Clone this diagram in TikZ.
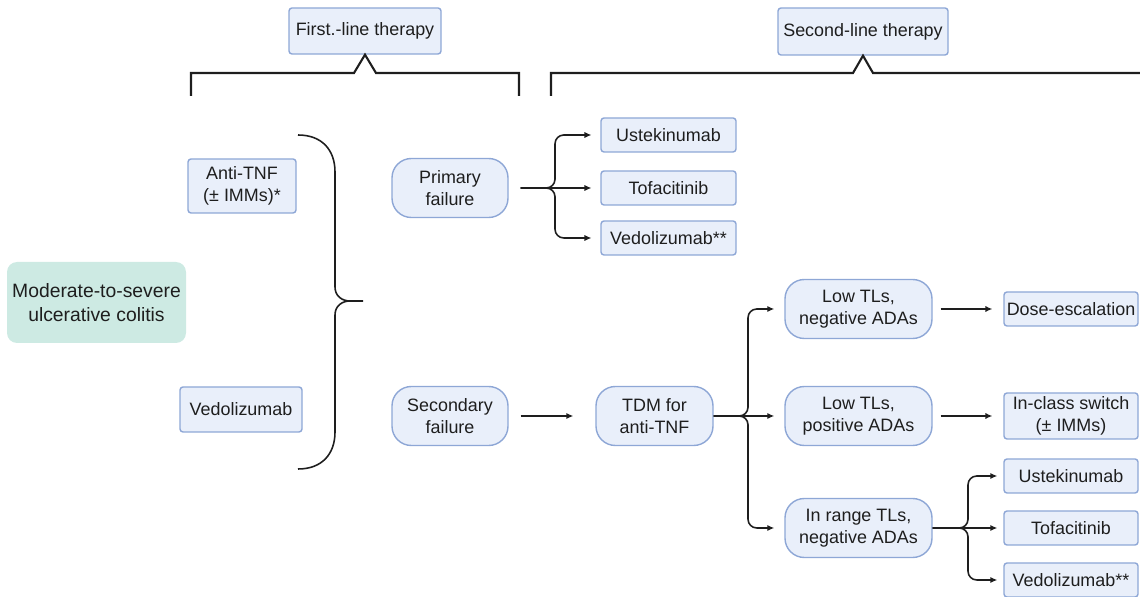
\documentclass[tikz,border=0pt]{standalone}
\usepackage{fontspec}
\setmainfont{Liberation Sans}
\usetikzlibrary{arrows.meta}

\definecolor{boxfill}{HTML}{E9EFFA}
\definecolor{boxline}{HTML}{8EA7D6}
\definecolor{teal}{HTML}{CDEAE3}
\definecolor{ink}{HTML}{1E1E1E}

\tikzset{
    size/.style 2 args={minimum width=#1*0.02cm, minimum height=#2*0.02cm},
    box/.style={draw=boxline, fill=boxfill, line width=0.8pt, rounded corners=1.7pt,
        align=center, inner sep=0pt, text=ink, font=\fontsize{10.2}{12.5}\selectfont},
    pill/.style={box, rounded corners=11pt},
    arr/.style={-{Latex[length=4pt,width=3.6pt]}, line width=0.9pt, rounded corners=5pt, ink},
    bracket/.style={line width=1.2pt, ink, miter limit=20},
}

\begin{document}
\begin{tikzpicture}[x=0.02cm, y=-0.02cm]

    \useasboundingbox (0,0) rectangle (1140,597);

    % Titulos
    \node[box, size={152}{46}] (first) at (365,31) {First.-line therapy};
    \node[box, size={170}{47}] (second) at (863,31.5) {Second-line therapy};
    % Llaves de arriba
    \draw[bracket] (191,96) -- (191,73) -- (354,73) -- (first.south) -- (376,73) -- (519,73) -- (519,96);
    \draw[bracket] (551,96) -- (551,73) -- (853,73) -- (second.south) -- (873,73) -- (1140,73);

    % Enfermedad
    \node[box, draw=none, fill=teal, rounded corners=5.7pt, size={179}{81},
        font=\fontsize{11}{13.5}\selectfont] (uc) at (96.5,302.5)
        {Moderate-to-severe\\ulcerative colitis};
    % Primera linea
    \node[box, size={108}{54}] (antitnf) at (242,186) {Anti-TNF\\(± IMMs)*};
    \node[box, size={122}{45}] (vedo) at (241,409.5) {Vedolizumab};
    % Llave grande
    \draw[line width=0.9pt, ink] (298,135) .. controls (322,135) and (335,150) .. (335,172) -- (335,287)
        .. controls (335,296) and (342,301) .. (350,301) -- (363,301)
        (350,301) .. controls (342,301) and (335,306) .. (335,315) -- (335,432)
        .. controls (335,454) and (322,469) .. (298,469);

    % Fallo primario
    \node[pill, size={116}{59}] (prim) at (450,188) {Primary\\failure};
    \node[box, size={135}{34}] (ustA) at (668.5,135) {Ustekinumab};
    \node[box, size={135}{34}] (tofaA) at (668.5,188) {Tofacitinib};
    \node[box, size={135}{34}] (vedoA) at (668.5,238) {Vedolizumab**};
    \coordinate (forkA) at (555,188);
    \draw[arr, shorten <=6.8pt, shorten >=5pt] (prim.east) -- (forkA) |- (ustA.west);
    \draw[arr, shorten <=6.8pt, shorten >=5pt] (prim.east) -- (tofaA.west);
    \draw[arr, shorten <=6.8pt, shorten >=5pt] (prim.east) -- (forkA) |- (vedoA.west);

    % Fallo secundario
    \node[pill, size={116}{59}] (sec) at (450,416) {Secondary\\failure};
    \node[pill, size={117}{59}] (tdm) at (654.5,416) {TDM for\\anti-TNF};
    \draw[arr, shorten <=6.8pt, shorten >=12.5pt] (sec.east) -- (tdm.west);

    % Niveles
    \node[pill, size={147}{59}] (lowneg) at (858.5,309) {Low TLs,\\negative ADAs};
    \node[pill, size={147}{59}] (lowpos) at (858.5,416) {Low TLs,\\positive ADAs};
    \node[pill, size={147}{59}] (inrange) at (858.5,528) {In range TLs,\\negative ADAs};
    \coordinate (forkB) at (748,416);
    \draw[arr, shorten >=5.7pt] (tdm.east) -- (forkB) |- (lowneg.west);
    \draw[arr, shorten >=5.7pt] (tdm.east) -- (lowpos.west);
    \draw[arr, shorten >=5.7pt] (tdm.east) -- (forkB) |- (inrange.west);

    % Conducta
    \node[box, size={134}{34}] (dose) at (1071,309) {Dose-escalation};
    \node[box, size={134}{46}] (switch) at (1071,416) {In-class switch\\(± IMMs)};
    \draw[arr, shorten <=4.5pt, shorten >=6.2pt] (lowneg.east) -- (dose.west);
    \draw[arr, shorten <=4.5pt, shorten >=6.2pt] (lowpos.east) -- (switch.west);

    \node[box, size={134}{34}] (ustB) at (1071,476) {Ustekinumab};
    \node[box, size={134}{34}] (tofaB) at (1071,528) {Tofacitinib};
    \node[box, size={134}{34}] (vedoB) at (1071,580) {Vedolizumab**};
    \coordinate (forkC) at (968,528);
    \draw[arr, shorten >=3.4pt] (inrange.east) -- (forkC) |- (ustB.west);
    \draw[arr, shorten >=3.4pt] (inrange.east) -- (tofaB.west);
    \draw[arr, shorten >=3.4pt] (inrange.east) -- (forkC) |- (vedoB.west);

\end{tikzpicture}
\end{document}
